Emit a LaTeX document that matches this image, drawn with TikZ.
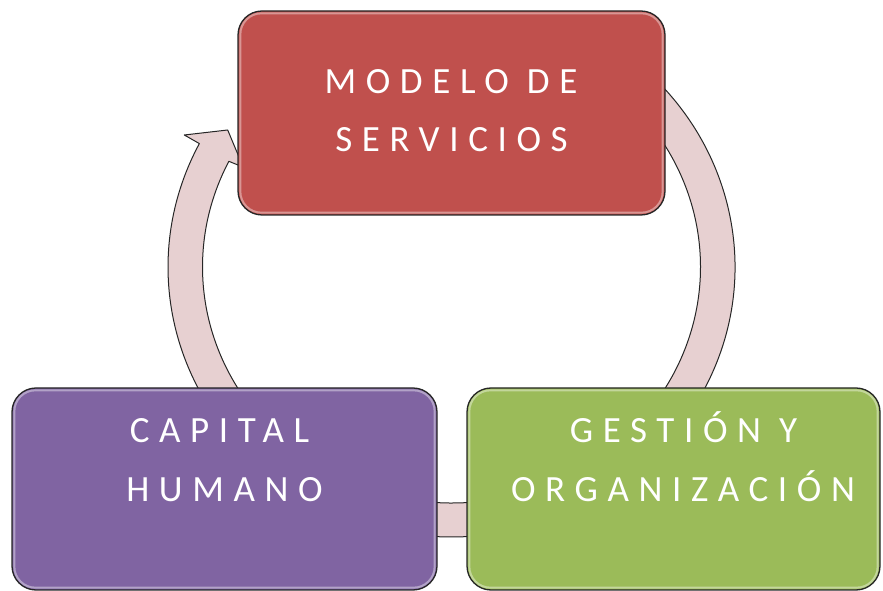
\documentclass[tikz,border=0pt]{standalone}
\usepackage{fontspec}
\newfontfamily\boxfont[LetterSpace=26]{Carlito}
\definecolor{boxred}{RGB}{192,80,77}
\definecolor{boxpurple}{RGB}{128,100,162}
\definecolor{boxgreen}{RGB}{155,187,89}
\definecolor{ringfill}{RGB}{231,208,209}
\begin{document}
\begin{tikzpicture}[x=1pt,y=1pt,
  box/.style={draw=black!85, line width=1.3pt, rounded corners=24pt, inner sep=0pt},
  glow/.style={draw=white, line width=2pt, opacity=0.4, rounded corners=21pt},
  ring/.style={fill=ringfill, draw=black!85, line width=1pt, line join=round},
  lbl/.style={font=\boxfont\fontsize{37}{37}\selectfont, text=white, anchor=base, inner sep=0pt}]
\useasboundingbox (0,0) rectangle (883,591);
\coordinate (C) at (451.5,324);
% right + bottom band
\draw[ring] ([shift={(60:283.5pt and 270pt)}]C)
  arc[start angle=60, end angle=-145, x radius=283.5pt, y radius=270pt]
  -- ([shift={(-145:249pt and 236pt)}]C)
  arc[start angle=-145, end angle=60, x radius=249pt, y radius=236pt] -- cycle;
% left arrow with head
\draw[ring] ([shift={(215:283.5pt and 270pt)}]C)
  arc[start angle=215, end angle=152.8, x radius=283.5pt, y radius=270pt]
  -- (184.3,456) -- (227.7,461) -- (243.2,423.9)
  -- ([shift={(153.4:249pt and 236pt)}]C)
  arc[start angle=153.4, end angle=215, x radius=249pt, y radius=236pt] -- cycle;
% boxes
\node[box, fill=boxred, minimum width=427pt, minimum height=204pt] (red) at (451.5,478) {};
\node[box, fill=boxpurple, minimum width=425pt, minimum height=202pt] (purple) at (224.5,102) {};
\node[box, fill=boxgreen, minimum width=413pt, minimum height=202pt] (green) at (673.5,102) {};
\foreach \b in {red,purple,green}{
  \draw[glow] ([shift={(3pt,-3pt)}]\b.north west) rectangle ([shift={(-3pt,3pt)}]\b.south east);
}
% labels
\node[lbl] (t1) at (451,497) {MODELO DE};
\node[lbl] (t2) at (451.5,439) {SERVICIOS};
\node[lbl] (t3) at (219.5,148) {CAPITAL};
\node[lbl] (t4) at (224.5,89) {HUMANO};
\node[lbl] (t5) at (683.5,148) {GESTIÓN Y};
\node[lbl] (t6) at (683,89) {ORGANIZACIÓN};
\end{tikzpicture}
\end{document}
